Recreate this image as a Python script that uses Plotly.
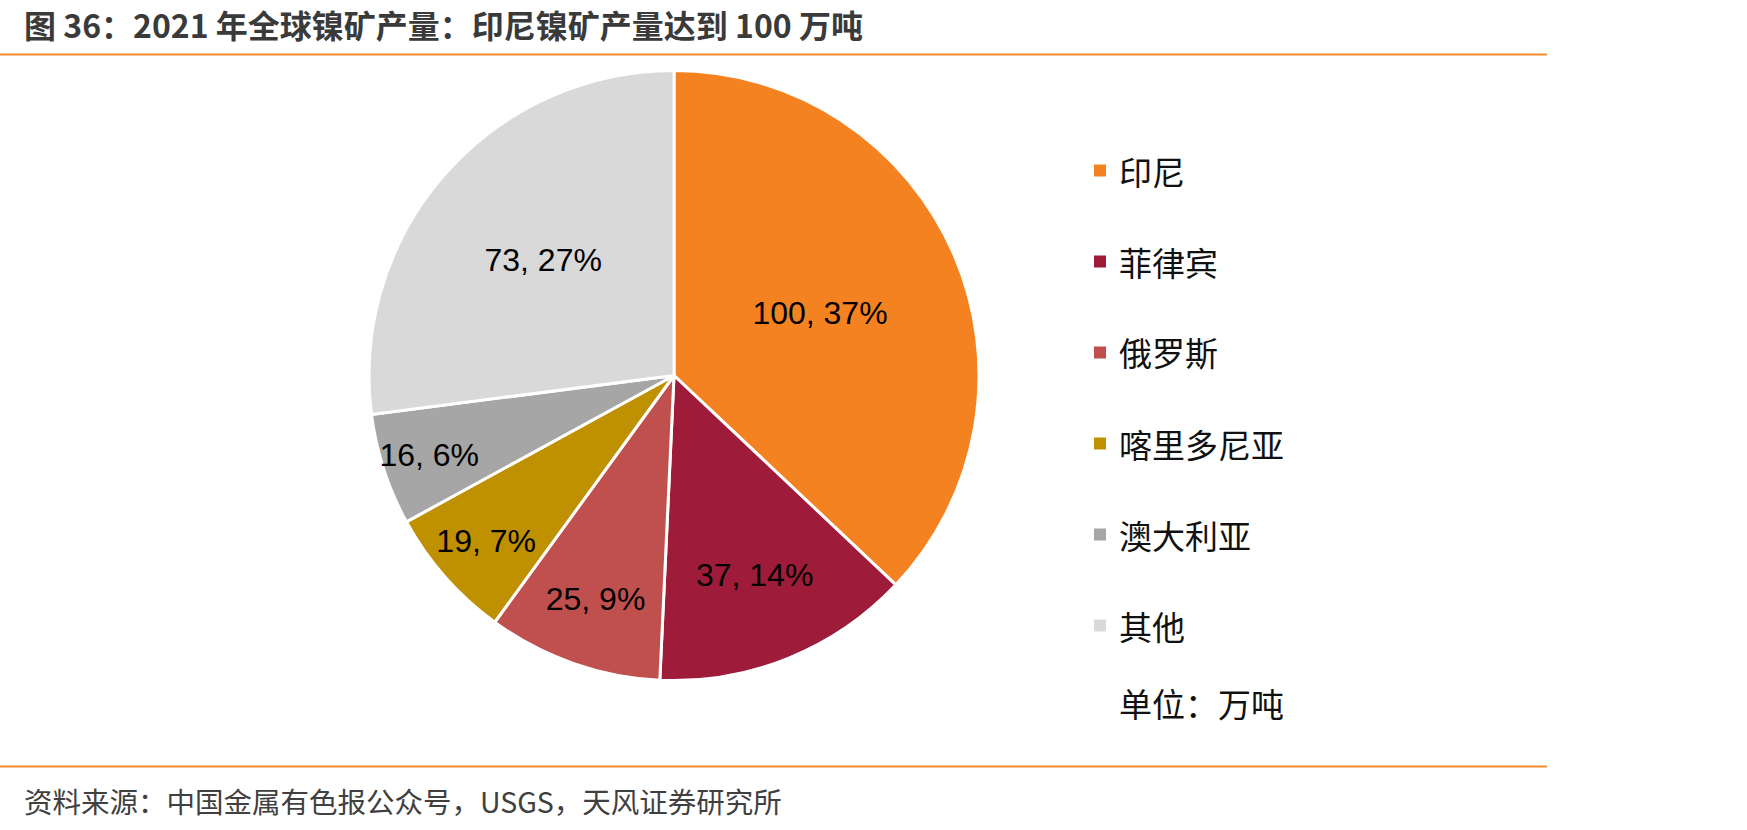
import plotly.graph_objects as go

labels = ["印尼", "菲律宾", "俄罗斯", "喀里多尼亚", "澳大利亚", "其他"]
values = [100, 37, 25, 19, 16, 73]
colors = ["#F58220", "#9E1B3A", "#C0504D", "#BF9000", "#A6A6A6", "#D9D9D9"]

title_text = "图 36：2021 年全球镍矿产量：印尼镍矿产量达到 100 万吨"
source_text = "资料来源：中国金属有色报公众号，USGS，天风证券研究所"
unit_text = "单位：万吨"

W, H = 1747, 830
CJK = "Noto Sans CJK SC"

fig = go.Figure()
fig.add_trace(go.Pie(
    labels=labels, values=values, sort=False, direction="clockwise", rotation=0,
    marker=dict(colors=colors, line=dict(color="white", width=3)),
    texttemplate="%{value}, %{percent:.0%}", textposition="inside",
    insidetextorientation="horizontal",
    textfont=dict(family="Liberation Sans, Arial", size=32, color="#000000"),
    domain=dict(x=[(674 - 305) / W, (674 + 305) / W], y=[1 - (375.5 + 305) / H, 1 - (375.5 - 305) / H]),
    showlegend=False, hoverinfo="label+value+percent",
))

shapes = [
    dict(type="line", xref="paper", yref="paper", x0=0, x1=1547 / W, y0=1 - 54.5 / H, y1=1 - 54.5 / H,
         line=dict(color="#F4892F", width=2)),
    dict(type="line", xref="paper", yref="paper", x0=0, x1=1547 / W, y0=1 - 766.5 / H, y1=1 - 766.5 / H,
         line=dict(color="#F4892F", width=2)),
]
annotations = [
    dict(text="<b>" + title_text + "</b>", x=22 / W, y=1 - 24 / H, xref="paper", yref="paper",
         xanchor="left", yanchor="middle", showarrow=False,
         font=dict(family=CJK, size=32, color="#3A3A3A")),
    dict(text=source_text, x=22 / W, y=1 - 800 / H, xref="paper", yref="paper",
         xanchor="left", yanchor="middle", showarrow=False,
         font=dict(family=CJK, size=28.5, color="#404040")),
]

leg_y0, leg_dy = 170.5, 91
for i, (lab, col) in enumerate(zip(labels, colors)):
    yc = leg_y0 + i * leg_dy
    shapes.append(dict(type="rect", xref="paper", yref="paper",
                       x0=1094 / W, x1=1106 / W, y0=1 - (yc + 6) / H, y1=1 - (yc - 6) / H,
                       fillcolor=col, line=dict(width=0)))
    annotations.append(dict(text=lab, x=1117 / W, y=1 - yc / H, xref="paper", yref="paper",
                            xanchor="left", yanchor="middle", showarrow=False,
                            font=dict(family=CJK, size=33, color="#111111")))
annotations.append(dict(text=unit_text, x=1117 / W, y=1 - 703 / H, xref="paper", yref="paper",
                        xanchor="left", yanchor="middle", showarrow=False,
                        font=dict(family=CJK, size=33, color="#111111")))

fig.update_layout(
    width=W, height=H, margin=dict(l=0, r=0, t=0, b=0),
    paper_bgcolor="white", plot_bgcolor="white",
    shapes=shapes, annotations=annotations,
    uniformtext=dict(minsize=32, mode="show"),
)
fig.write_html("out.html")
